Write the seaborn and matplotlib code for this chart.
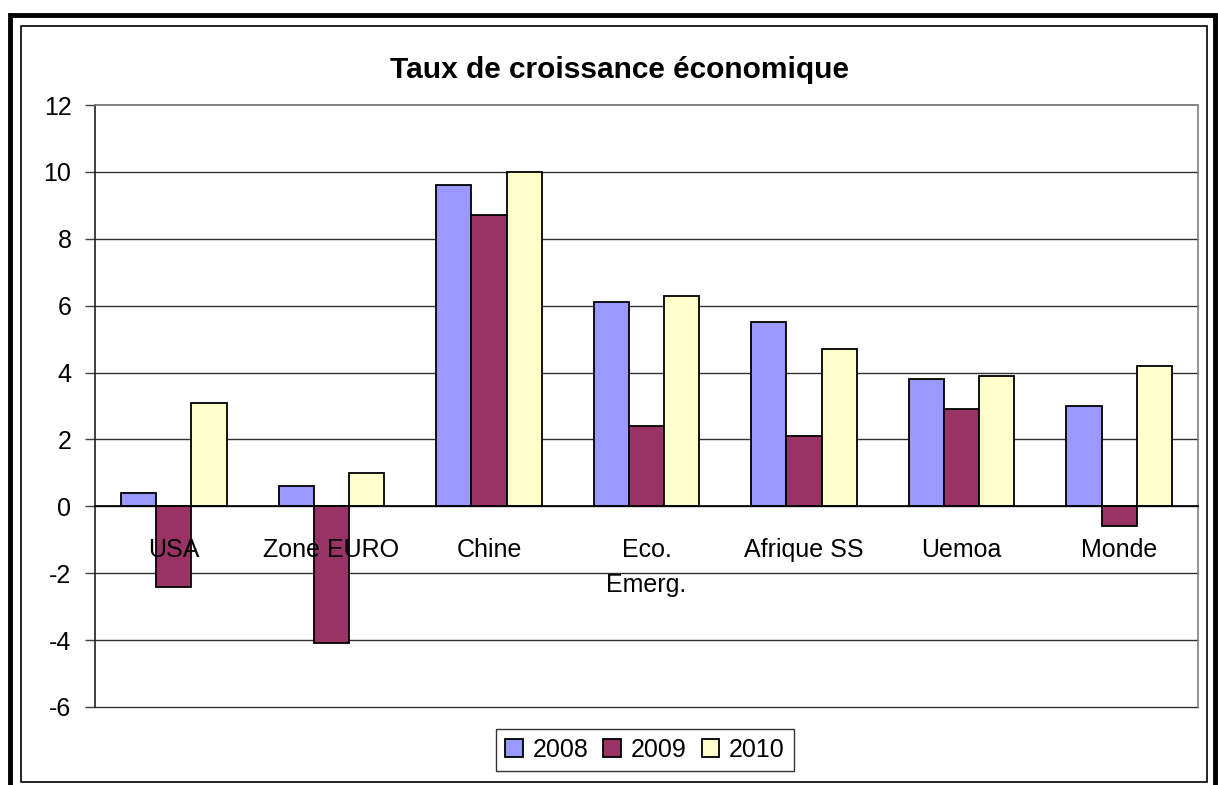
import numpy as np
import pandas as pd
import matplotlib
matplotlib.use("Agg")
import matplotlib.pyplot as plt
from matplotlib.patches import Rectangle
import seaborn as sns

# data
pays = ['USA', 'Zone EURO', 'Chine', 'Eco.\nEmerg.', 'Afrique SS', 'Uemoa', 'Monde']
annees = ['2008', '2009', '2010']
taux_2008 = [0.4, 0.6, 9.6, 6.1, 5.5, 3.8, 3.0]
taux_2009 = [-2.4, -4.1, 8.7, 2.4, 2.1, 2.9, -0.6]
taux_2010 = [3.1, 1.0, 10.0, 6.3, 4.7, 3.9, 4.2]
couleurs = ['#9999FF', '#993366', '#FFFFCC']

df = pd.DataFrame({
    'pays': pays * 3,
    'annee': np.repeat(annees, len(pays)),
    'taux': taux_2008 + taux_2009 + taux_2010,
})

sns.set_style('white')
plt.rcParams['font.family'] = ['Liberation Sans', 'DejaVu Sans']
plt.rcParams['axes.unicode_minus'] = False
plt.rcParams['text.color'] = 'black'
plt.rcParams['xtick.color'] = 'black'
plt.rcParams['ytick.color'] = 'black'

fig = plt.figure(figsize=(12.18, 7.85), dpi=100)
ax = fig.add_axes([0.078, 0.0994, 0.9056, 0.7668])

sns.barplot(data=df, x='pays', y='taux', hue='annee', order=pays,
            hue_order=annees, palette=couleurs, saturation=1, width=0.67,
            edgecolor='black', linewidth=1.3, ax=ax, zorder=2)

ax.set_ylim(-6, 12)
ax.set_xlim(-0.5, 6.5)
yticks = np.arange(-6, 13, 2)
ax.set_yticks(yticks)
# gridlines behind the bars, drawn by hand so the axis text can sit on top
for v in yticks:
    if v == 12:
        ax.axhline(v, color='#808080', linewidth=1.2, zorder=0.5, clip_on=False)
    else:
        ax.axhline(v, color='#303030', linewidth=1.0, zorder=0.5, clip_on=False)
ax.set_xlabel('')
ax.set_ylabel('')

# category axis sits at zero like in Excel
ax.spines['bottom'].set_position(('data', 0))
ax.spines['bottom'].set_color('black')
ax.spines['bottom'].set_linewidth(1.2)
ax.spines['left'].set_color('#202020')
ax.spines['left'].set_linewidth(1.2)
for s in ['top', 'right']:
    ax.spines[s].set_color('#808080')
    ax.spines[s].set_linewidth(1.2)

ax.set_xticks(np.arange(-0.5, 7, 1), minor=True)
ax.tick_params(axis='x', which='major', length=0, pad=22.5, labelsize=18)
ax.tick_params(axis='x', which='minor', length=7, width=1, direction='out',
               color='#404040')
ax.tick_params(axis='y', length=7, width=1, direction='out', pad=10,
               labelsize=18, left=True, color='#404040')
for lab in ax.get_xticklabels():
    lab.set_multialignment('center')
    lab.set_linespacing(1.62)
ax.xaxis.set_zorder(3)

ax.legend_.remove()
handles = [Rectangle((0, 0), 1, 1, facecolor=c, edgecolor='black', linewidth=1.3)
           for c in couleurs]
leg = ax.legend(handles, annees, loc='center', bbox_to_anchor=(0.5296, 0.0446),
                bbox_transform=fig.transFigure, ncol=3, fontsize=18,
                frameon=True, fancybox=False, edgecolor='black',
                handlelength=0.7, handleheight=0.7, handletextpad=0.4,
                columnspacing=0.6, borderpad=0.35, borderaxespad=0)
leg.get_frame().set_linewidth(1.0)

fig.text(0.509, 0.911, 'Taux de croissance économique', ha='center',
         va='center', fontsize=21.5, fontweight='bold')

# chart frames
fig.add_artist(Rectangle((10 / 1218, -0.05), 1205 / 1218, 1.05 - 15 / 785,
                         transform=fig.transFigure, fill=False,
                         edgecolor='black', linewidth=3.5))
fig.add_artist(Rectangle((21 / 1218, 1 - 782 / 785), 1186 / 1218, 756 / 785,
                         transform=fig.transFigure, fill=False,
                         edgecolor='black', linewidth=1.2))

fig.savefig('out.png', dpi=100, facecolor='white')
